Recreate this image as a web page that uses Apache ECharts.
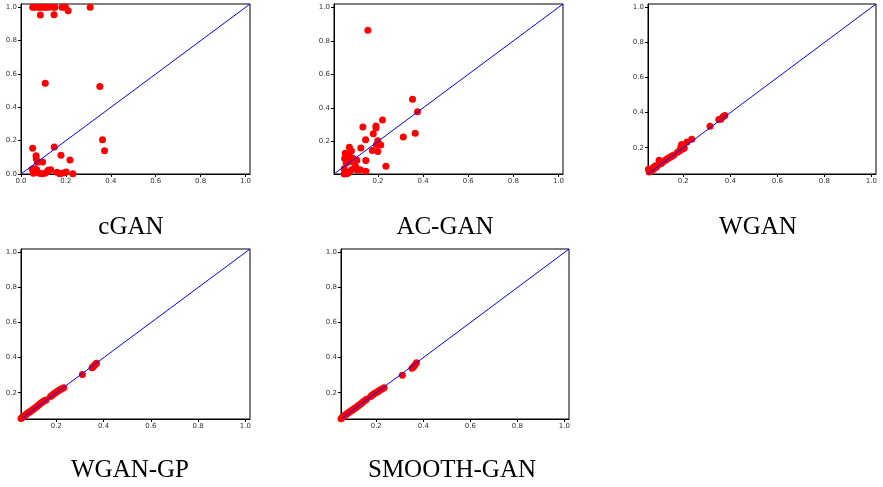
<!DOCTYPE html>
<html>
<head>
<meta charset="utf-8">
<script src="https://cdn.jsdelivr.net/npm/echarts@6/dist/echarts.min.js"></script>
<style>
  html, body { margin: 0; padding: 0; background: #fff; }
  #container { width: 883px; height: 487px; }
</style>
</head>
<body>
<div id="container"></div>
<script>
// panel names
var names = ['cGAN', 'AC-GAN', 'WGAN', 'WGAN-GP', 'SMOOTH-GAN'];

// tick labels
var ticksFull = [0, 0.2, 0.4, 0.6, 0.8, 1.0];
var ticksNoZero = [0.2, 0.4, 0.6, 0.8, 1.0];

// cGAN
var cganX = [0.052, 0.059, 0.077, 0.084, 0.095, 0.104, 0.114, 0.123, 0.144, 0.151, 0.183, 0.193, 0.198, 0.308,
    0.210, 0.086, 0.147, 0.108, 0.351, 0.363, 0.372,
    0.052, 0.148, 0.067, 0.068, 0.073, 0.096, 0.178, 0.218,
    0.050, 0.059, 0.070, 0.055, 0.081, 0.093, 0.121, 0.132, 0.107, 0.173, 0.188, 0.201, 0.231, 0.062, 0.117, 0.160];
var cganY = [1, 1, 1, 1, 1, 1, 1, 1, 1, 1, 1, 1, 1, 1,
    0.980, 0.954, 0.956, 0.545, 0.525, 0.205, 0.140,
    0.154, 0.162, 0.110, 0.092, 0.070, 0.072, 0.112, 0.084,
    0.028, 0.014, 0.024, 0.004, 0.004, 0.002, 0.022, 0.026, 0.004, 0.002, 0.006, 0.012, 0.002, 0.032, 0.014, 0.010];

// AC-GAN
var acganX = [0.155, 0.353, 0.375, 0.220, 0.133, 0.191, 0.191, 0.179, 0.365, 0.312, 0.145, 0.199, 0.212, 0.193,
    0.175, 0.199, 0.124, 0.073, 0.082, 0.055, 0.146, 0.106, 0.052, 0.060, 0.068, 0.075, 0.085, 0.059, 0.100,
    0.235, 0.146, 0.121, 0.095, 0.050, 0.059, 0.083, 0.071, 0.050, 0.062, 0.110, 0.078, 0.090];
var acganY = [0.863, 0.452, 0.377, 0.327, 0.285, 0.291, 0.279, 0.246, 0.248, 0.226, 0.210, 0.204, 0.178, 0.180,
    0.145, 0.140, 0.160, 0.164, 0.142, 0.129, 0.085, 0.087, 0.097, 0.104, 0.090, 0.108, 0.095, 0.071, 0.051,
    0.051, 0.021, 0.031, 0.039, 0.037, 0.017, 0.031, 0.014, 0.005, 0.006, 0.027, 0.080, 0.098];

// WGAN
var wganX = [0.052, 0.055, 0.059, 0.066, 0.073, 0.080, 0.086, 0.092, 0.097, 0.101, 0.109, 0.116, 0.125, 0.136,
    0.144, 0.153, 0.160, 0.176, 0.185, 0.190, 0.193, 0.204, 0.216, 0.236, 0.314, 0.351, 0.360, 0.369, 0.377,
    0.062, 0.070, 0.078, 0.105, 0.130, 0.148, 0.198];
var wganY = [0.077, 0.062, 0.069, 0.079, 0.087, 0.096, 0.090, 0.102, 0.128, 0.111, 0.116, 0.121, 0.130, 0.140,
    0.146, 0.153, 0.158, 0.174, 0.183, 0.206, 0.219, 0.198, 0.232, 0.248, 0.323, 0.361, 0.363, 0.376, 0.384,
    0.066, 0.074, 0.083, 0.109, 0.134, 0.150, 0.193];

// WGAN-GP
var wgangpX = [0.050, 0.055, 0.060, 0.065, 0.070, 0.075, 0.080, 0.085, 0.090, 0.096, 0.102, 0.108, 0.114, 0.120,
    0.126, 0.132, 0.138, 0.144, 0.150, 0.156, 0.175, 0.181, 0.187, 0.193, 0.199, 0.205, 0.211, 0.217, 0.224,
    0.231, 0.310, 0.351, 0.357, 0.363, 0.370];
var wgangpY = [0.053, 0.059, 0.064, 0.069, 0.074, 0.080, 0.085, 0.089, 0.094, 0.100, 0.106, 0.112, 0.118, 0.124,
    0.131, 0.138, 0.144, 0.150, 0.156, 0.158, 0.178, 0.184, 0.191, 0.197, 0.203, 0.209, 0.214, 0.219, 0.224,
    0.228, 0.304, 0.342, 0.350, 0.360, 0.368];

// SMOOTH-GAN
var smoothX = [0.050, 0.056, 0.061, 0.066, 0.071, 0.077, 0.082, 0.088, 0.093, 0.099, 0.105, 0.111, 0.117, 0.123,
    0.129, 0.135, 0.141, 0.147, 0.153, 0.159, 0.176, 0.182, 0.188, 0.194, 0.200, 0.206, 0.212, 0.218, 0.226,
    0.233, 0.311, 0.352, 0.358, 0.364, 0.371];
var smoothY = [0.052, 0.060, 0.066, 0.071, 0.076, 0.081, 0.087, 0.092, 0.097, 0.101, 0.108, 0.113, 0.119, 0.126,
    0.131, 0.137, 0.144, 0.151, 0.157, 0.162, 0.178, 0.186, 0.191, 0.197, 0.201, 0.206, 0.211, 0.217, 0.223,
    0.229, 0.300, 0.340, 0.347, 0.356, 0.371];

var panels = [
    { x: cganX, y: cganY, min: 0, ticks: ticksFull, grid: { left: 21, top: 4, width: 229, height: 170 }, title: [131, 227] },
    { x: acganX, y: acganY, min: 0.005, ticks: ticksNoZero, grid: { left: 334, top: 4, width: 229, height: 170 }, title: [445, 227] },
    { x: wganX, y: wganY, min: 0.05, ticks: ticksNoZero, grid: { left: 648, top: 4, width: 228, height: 170 }, title: [758, 227] },
    { x: wgangpX, y: wgangpY, min: 0.05, ticks: ticksNoZero, grid: { left: 21, top: 249, width: 229, height: 170 }, title: [130, 470] },
    { x: smoothX, y: smoothY, min: 0.05, ticks: ticksNoZero, grid: { left: 341, top: 249, width: 228, height: 170 }, title: [452, 470] }
];
var maxV = 1.02;

function axisOpt(i, p) {
    return {
        type: 'value',
        gridIndex: i,
        min: p.min,
        max: maxV,
        splitLine: { show: false },
        axisLine: { show: true, onZero: false, lineStyle: { color: '#000', width: 1 } },
        axisTick: { show: true, length: 3, customValues: p.ticks, lineStyle: { color: '#000' } },
        axisLabel: {
            customValues: p.ticks,
            fontSize: 7,
            fontFamily: 'DejaVu Sans',
            color: '#333',
            margin: 4,
            formatter: function (v) { return v.toFixed(1); }
        }
    };
}

var option = {
    animation: false,
    backgroundColor: '#fff',
    grid: [], xAxis: [], yAxis: [], series: [], graphic: []
};

panels.forEach(function (p, i) {
    option.grid.push(Object.assign({
        show: true, borderColor: '#000', borderWidth: 1, outerBoundsMode: 'none'
    }, p.grid));
    option.xAxis.push(axisOpt(i, p));
    option.yAxis.push(axisOpt(i, p));
    option.series.push({
        type: 'scatter',
        xAxisIndex: i, yAxisIndex: i,
        symbolSize: 7,
        itemStyle: { color: '#ff0000', opacity: 1 },
        data: p.x.map(function (v, k) { return [v, p.y[k]]; }),
        z: 2
    });
    option.series.push({
        type: 'line',
        xAxisIndex: i, yAxisIndex: i,
        showSymbol: false,
        lineStyle: { color: '#0000ff', width: 1 },
        data: [[p.min, p.min], [maxV, maxV]],
        z: 3
    });
    option.graphic.push({
        type: 'text',
        x: p.title[0], y: p.title[1],
        style: {
            text: names[i],
            font: '25px "Liberation Serif"',
            fill: '#000',
            textAlign: 'center', textVerticalAlign: 'middle',
            align: 'center', verticalAlign: 'middle'
        }
    });
});

var myChart = echarts.init(document.getElementById('container'));
myChart.setOption(option);
</script>
</body>
</html>
